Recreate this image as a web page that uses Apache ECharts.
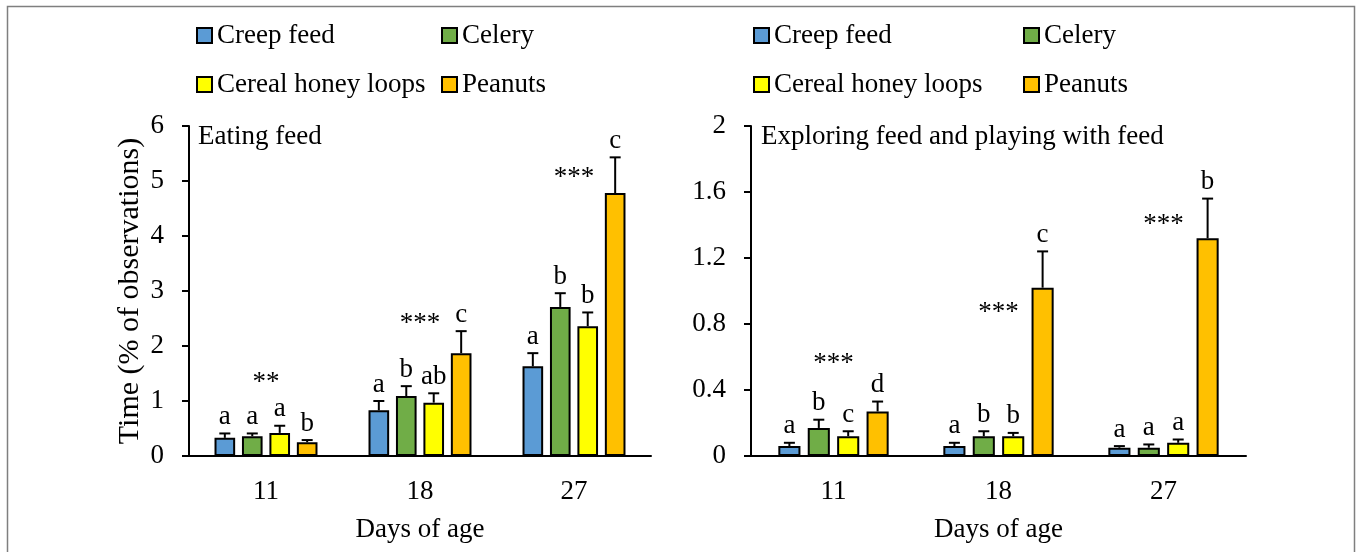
<!DOCTYPE html>
<html><head><meta charset="utf-8">
<script src="https://cdn.jsdelivr.net/npm/echarts@6/dist/echarts.min.js"></script>
<style>html,body{margin:0;padding:0;background:#fff}#c{width:1357px;height:552px}</style>
</head><body><div id="c"></div><script>
// ---- data ----
const categories = ['11', '18', '27'];
const foods = ['Creep feed', 'Celery', 'Cereal honey loops', 'Peanuts'];
const colors = ['#5B9BD5', '#70AD47', '#FFFF00', '#FFC000'];

// Eating feed (% of observations): means and error-bar tops
const eatCreep = [0.33, 0.83, 1.63];
const eatCelery = [0.36, 1.09, 2.71];
const eatCereal = [0.42, 0.97, 2.36];
const eatPeanuts = [0.25, 1.87, 4.78];
const eatCreepTop = [0.41, 1.00, 1.87];
const eatCeleryTop = [0.41, 1.27, 2.96];
const eatCerealTop = [0.55, 1.14, 2.61];
const eatPeanutsTop = [0.29, 2.27, 5.43];
const eatLetters = [['a', 'a', 'a'], ['a', 'b', 'b'], ['a', 'ab', 'b'], ['b', 'c', 'c']]; // per food, per day
const eatStars = ['**', '***', '***'];
const eatStarY = [1.33, 2.40, 5.06];

// Exploring feed and playing with feed
const expCreep = [0.06, 0.06, 0.05];
const expCelery = [0.17, 0.12, 0.05];
const expCereal = [0.12, 0.12, 0.08];
const expPeanuts = [0.27, 1.02, 1.32];
const expCreepTop = [0.08, 0.08, 0.06];
const expCeleryTop = [0.22, 0.15, 0.07];
const expCerealTop = [0.15, 0.14, 0.10];
const expPeanutsTop = [0.33, 1.24, 1.56];
const expLetters = [['a', 'a', 'a'], ['b', 'b', 'a'], ['c', 'b', 'a'], ['d', 'c', 'b']];
const expStars = ['***', '***', '***'];
const expStarY = [0.56, 0.87, 1.40];

const yTicksLeft = { min: 0, max: 6, interval: 1 };
const yTicksRight = { min: 0, max: 2, interval: 0.4 };

// ---- chart ----
const FONT = "'Liberation Serif', 'Times New Roman', serif";
const FS = 27;
const BAR_FRAC = 0.134, GAP_FRAC = 0.33;

function errData(means, tops) {
  const d = [];
  for (let f = 0; f < 4; f++) for (let c = 0; c < 3; c++) d.push([c, f, means[f][c], tops[f][c]]);
  return d;
}
function errSeries(ax, means, tops, letters) {
  return {
    type: 'custom', xAxisIndex: ax, yAxisIndex: ax, z: 5,
    data: errData(means, tops), encode: { x: 0, y: 3 },
    renderItem: function (params, api) {
      const c = api.value(0), f = api.value(1), m = api.value(2), t = api.value(3);
      const band = api.size([1, 0])[0];
      const bw = band * BAR_FRAC, gap = bw * GAP_FRAC;
      const cx = api.coord([c, 0])[0] + (f - 1.5) * (bw + gap);
      const y0 = api.coord([c, m])[1], y1 = api.coord([c, t])[1];
      return { type: 'group', children: [
        { type: 'line', shape: { x1: cx, y1: y0, x2: cx, y2: y1 }, style: { stroke: '#000', lineWidth: 2 } },
        { type: 'line', shape: { x1: cx - 5.5, y1: y1, x2: cx + 5.5, y2: y1 }, style: { stroke: '#000', lineWidth: 2 } },
        { type: 'text', style: { x: cx, y: y1 - 3, text: letters[f][c], align: 'center', verticalAlign: 'bottom', font: FS + 'px ' + FONT, fill: '#000' } }
      ]};
    }
  };
}
function starSeries(ax, stars, ys) {
  return {
    type: 'custom', xAxisIndex: ax, yAxisIndex: ax, z: 5,
    data: ys.map((y, i) => [i, y]), encode: { x: 0, y: 1 },
    renderItem: function (params, api) {
      const p = api.coord([api.value(0), api.value(1)]);
      return { type: 'text', style: { x: p[0], y: p[1], text: stars[params.dataIndex], align: 'center', verticalAlign: 'middle', font: FS + 'px ' + FONT, fill: '#000' } };
    }
  };
}
function barSeries(ax, vals) {
  return vals.map((v, i) => ({
    type: 'bar', name: foods[i], xAxisIndex: ax, yAxisIndex: ax, data: v,
    barWidth: (BAR_FRAC * 100) + '%', barGap: (GAP_FRAC * 100) + '%',
    itemStyle: { color: colors[i], borderColor: '#000', borderWidth: 2 }
  }));
}
const axLine = { lineStyle: { color: '#000', width: 2 } };
function xAx(g) {
  return { gridIndex: g, type: 'category', data: categories,
    axisLine: axLine, axisTick: { length: 8, lineStyle: { color: '#000', width: 2 } },
    axisLabel: { fontSize: FS, fontFamily: FONT, color: '#000', margin: 22 },
    name: 'Days of age', nameLocation: 'middle', nameGap: 60,
    nameTextStyle: { fontSize: FS, fontFamily: FONT, color: '#000' } };
}
function yAx(g, t, name) {
  return { gridIndex: g, type: 'value', min: t.min, max: t.max, interval: t.interval,
    axisLine: Object.assign({ show: true }, axLine), axisTick: { show: true, length: 7, lineStyle: { color: '#000', width: 2 } },
    splitLine: { show: false },
    axisLabel: { fontSize: FS, fontFamily: FONT, color: '#000', margin: 25 },
    name: name, nameLocation: 'middle', nameGap: 44,
    nameTextStyle: { fontSize: 30, fontFamily: FONT, color: '#000' } };
}
function legendItem(name, left, top) {
  return { data: [name], left: left, top: top, padding: 0, itemWidth: 15, itemHeight: 15, icon: 'rect',
    selectedMode: false, textStyle: { fontSize: FS, fontFamily: FONT, color: '#000' } };
}
const legendPos = [[196, 22], [441, 22], [196, 71], [441, 71], [753, 22], [1023, 22], [753, 71], [1023, 71]];

const option = {
  backgroundColor: '#fff', animation: false,
  grid: [
    { left: 189, top: 126, width: 462, height: 330 },
    { left: 751, top: 126, width: 495, height: 330 }
  ],
  legend: legendPos.map((p, i) => legendItem(foods[i % 4], p[0], p[1])),
  xAxis: [xAx(0), xAx(1)],
  yAxis: [yAx(0, yTicksLeft, 'Time (% of observations)'), yAx(1, yTicksRight, '')],
  graphic: [
    { type: 'rect', shape: { x: 7.5, y: 6.5, width: 1347, height: 600 }, style: { fill: 'none', stroke: '#7f7f7f', lineWidth: 1.5 }, silent: true },
    { type: 'text', x: 198, y: 137, style: { text: 'Eating feed', font: FS + 'px ' + FONT, fill: '#000', verticalAlign: 'middle' } },
    { type: 'text', x: 761, y: 137, style: { text: 'Exploring feed and playing with feed', font: FS + 'px ' + FONT, fill: '#000', verticalAlign: 'middle' } }
  ],
  series: [].concat(
    barSeries(0, [eatCreep, eatCelery, eatCereal, eatPeanuts]),
    [errSeries(0, [eatCreep, eatCelery, eatCereal, eatPeanuts], [eatCreepTop, eatCeleryTop, eatCerealTop, eatPeanutsTop], eatLetters),
     starSeries(0, eatStars, eatStarY)],
    barSeries(1, [expCreep, expCelery, expCereal, expPeanuts]),
    [errSeries(1, [expCreep, expCelery, expCereal, expPeanuts], [expCreepTop, expCeleryTop, expCerealTop, expPeanutsTop], expLetters),
     starSeries(1, expStars, expStarY)]
  )
};
const chart = echarts.init(document.getElementById('c'), null, { renderer: 'canvas' });
chart.setOption(option);
</script></body></html>
